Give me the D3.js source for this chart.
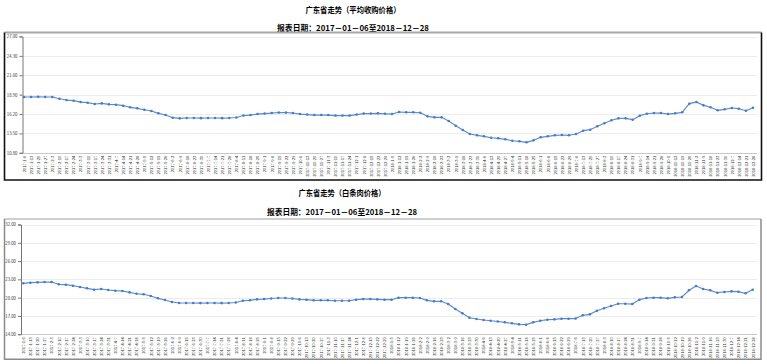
<!DOCTYPE html>
<html>
<head>
<meta charset="utf-8">
<script src="https://cdn.jsdelivr.net/npm/d3@7"></script>
<style>
  html, body { margin: 0; padding: 0; background: #fff; }
  svg { display: block; }
  text { font-family: "Noto Sans CJK SC", "Noto Sans", sans-serif; }
</style>
</head>
<body>
<svg id="chart" width="767" height="364"></svg>
<script>
// ---- data ----
const dates = ("2017-1-6,2017-1-13,2017-1-20,2017-1-27,2017-2-3,2017-2-10,2017-2-17,2017-2-24," +
  "2017-3-3,2017-3-10,2017-3-17,2017-3-24,2017-3-31,2017-4-7,2017-4-14,2017-4-21,2017-4-28," +
  "2017-5-5,2017-5-12,2017-5-19,2017-5-26,2017-6-2,2017-6-9,2017-6-16,2017-6-23,2017-6-30," +
  "2017-7-7,2017-7-14,2017-7-21,2017-7-28,2017-8-4,2017-8-11,2017-8-18,2017-8-25," +
  "2017-9-1,2017-9-8,2017-9-15,2017-9-22,2017-9-29,2017-10-6,2017-10-13,2017-10-20,2017-10-27," +
  "2017-11-3,2017-11-10,2017-11-17,2017-11-24,2017-12-1,2017-12-8,2017-12-15,2017-12-22,2017-12-29," +
  "2018-1-5,2018-1-12,2018-1-19,2018-1-26,2018-2-2,2018-2-9,2018-2-16,2018-2-23," +
  "2018-3-2,2018-3-9,2018-3-16,2018-3-23,2018-3-30,2018-4-6,2018-4-13,2018-4-20,2018-4-27," +
  "2018-5-4,2018-5-11,2018-5-18,2018-5-25,2018-6-1,2018-6-8,2018-6-15,2018-6-22,2018-6-29," +
  "2018-7-6,2018-7-13,2018-7-20,2018-7-27,2018-8-3,2018-8-10,2018-8-17,2018-8-24,2018-8-31," +
  "2018-9-7,2018-9-14,2018-9-21,2018-9-28,2018-10-5,2018-10-12,2018-10-19,2018-10-26," +
  "2018-11-2,2018-11-9,2018-11-16,2018-11-23,2018-11-30,2018-12-7,2018-12-14,2018-12-21,2018-12-28").split(",");

// 平均收购价格
const avgPrice = [18.57,18.57,18.61,18.57,18.57,18.33,18.15,18.06,17.87,17.78,
  17.60,17.69,17.55,17.50,17.36,17.14,17.00,16.80,16.62,16.30,
  16.06,15.69,15.60,15.65,15.65,15.63,15.65,15.65,15.63,15.65,
  15.72,15.99,16.06,16.20,16.27,16.34,16.41,16.41,16.34,16.20,
  16.13,16.06,16.06,16.06,15.99,15.99,15.99,16.13,16.27,16.27,
  16.30,16.24,16.20,16.48,16.44,16.44,16.38,15.88,15.74,15.74,
  15.23,14.57,13.97,13.42,13.24,13.10,12.90,12.82,12.68,12.48,
  12.40,12.26,12.54,12.96,13.10,13.24,13.28,13.24,13.42,13.88,
  14.02,14.49,14.91,15.33,15.60,15.60,15.41,15.97,16.24,16.34,
  16.34,16.20,16.30,16.44,17.64,17.87,17.41,17.14,16.72,16.86,
  17.04,16.94,16.66,17.08];

// 白条肉价格
const porkPrice = [22.35,22.45,22.51,22.56,22.56,22.19,22.12,21.96,21.74,21.53,
  21.30,21.42,21.25,21.14,21.09,20.87,20.64,20.55,20.27,19.89,
  19.61,19.28,19.12,19.12,19.12,19.10,19.12,19.12,19.10,19.12,
  19.20,19.49,19.56,19.72,19.77,19.86,19.94,19.94,19.86,19.72,
  19.66,19.56,19.56,19.56,19.49,19.49,19.49,19.66,19.77,19.77,
  19.72,19.66,19.66,19.99,19.99,19.99,19.94,19.56,19.40,19.40,
  18.95,18.13,17.43,16.70,16.49,16.33,16.21,16.08,15.95,15.79,
  15.62,15.56,15.95,16.21,16.38,16.44,16.54,16.54,16.57,17.10,
  17.26,17.85,18.25,18.63,19.00,19.00,18.95,19.66,19.94,19.99,
  19.99,19.89,20.05,20.10,21.20,21.91,21.42,21.20,20.81,20.92,
  21.04,20.97,20.71,21.30];

const ticks1 = [10.8, 13.5, 16.2, 18.9, 21.6, 24.3, 27.0];
const ticks2 = [14, 17, 20, 23, 26, 29, 32];

const title1 = "广东省走势（平均收购价格）";
const title2 = "广东省走势（白条肉价格）";
const subtitle = "报表日期：2017－01－06至2018－12－28";

// ---- drawing ----
const svg = d3.select("#chart");
const LINE = "#5a8bd2";

function drawChart(cfg) {
  const g = svg.append("g");

  // titles
  g.append("text").attr("x", cfg.cx).attr("y", cfg.titleY)
    .attr("text-anchor", "middle").attr("dominant-baseline", "central")
    .attr("font-size", 8).attr("font-weight", "bold").attr("fill", "#000")
    .attr("textLength", cfg.titleW).attr("lengthAdjust", "spacingAndGlyphs")
    .text(cfg.title);
  g.append("text").attr("x", cfg.cx).attr("y", cfg.subY)
    .attr("text-anchor", "middle").attr("dominant-baseline", "central")
    .attr("font-size", 8).attr("font-weight", "bold").attr("fill", "#000")
    .attr("textLength", cfg.subW).attr("lengthAdjust", "spacingAndGlyphs")
    .text(subtitle);

  // frame
  const b = cfg.box;
  g.append("line").attr("x1", b.x0).attr("x2", b.x1).attr("y1", b.y0).attr("y2", b.y0)
    .attr("stroke", cfg.topColor).attr("stroke-width", 2);
  g.append("path")
    .attr("d", `M${b.x0},${b.y0}V${b.y1}H${b.x1}V${b.y0}`)
    .attr("fill", "none").attr("stroke", cfg.frameColor).attr("stroke-width", cfg.frameW);

  const x = d3.scalePoint().domain(dates).range([cfg.px0, cfg.px1]);
  const y = d3.scaleLinear().domain([cfg.ticks[0], cfg.ticks[cfg.ticks.length - 1]])
    .range([cfg.bottom, cfg.top]);

  // gridlines
  g.append("g").selectAll("line").data(cfg.ticks).join("line")
    .attr("x1", cfg.axisX).attr("x2", cfg.right)
    .attr("y1", d => Math.round(y(d)) + 0.5).attr("y2", d => Math.round(y(d)) + 0.5)
    .attr("stroke", (d, i) => i === 0 ? "#c8c8c8" : "#ececec").attr("stroke-width", 1);

  // y axis
  const ya = g.append("g").attr("transform", `translate(${cfg.axisX},0)`)
    .call(d3.axisLeft(y).tickValues(cfg.ticks).tickFormat(d3.format(".2f")).tickSize(3).tickPadding(2));
  ya.select(".domain").attr("stroke", "#777");
  ya.selectAll(".tick line").attr("stroke", "#777");
  ya.selectAll(".tick text").attr("font-size", 4.3).attr("fill", "#333")
    .attr("font-family", "Liberation Sans, Arial, sans-serif");

  // x axis labels
  const xa = g.append("g").attr("transform", `translate(0,${cfg.bottom})`)
    .call(d3.axisBottom(x).tickSize(0).tickPadding(0));
  xa.select(".domain").remove();
  xa.selectAll(".tick text")
    .attr("font-size", 4.1).attr("fill", "#333")
    .attr("font-family", "Liberation Sans, Arial, sans-serif")
    .attr("text-anchor", "end")
    .attr("dy", "0.32em")
    .attr("transform", "translate(0,3) rotate(-90)")
    .attr("y", 0).attr("x", 0);

  // line + markers
  const line = d3.line().x((d, i) => x(dates[i])).y(d => y(d));
  g.append("path").datum(cfg.values).attr("d", line)
    .attr("fill", "none").attr("stroke", LINE).attr("stroke-width", 1.2)
    .attr("stroke-linejoin", "round");
  g.append("g").selectAll("circle").data(cfg.values).join("circle")
    .attr("cx", (d, i) => x(dates[i])).attr("cy", d => y(d))
    .attr("r", 1.3).attr("fill", "#4a7bc4");
}

drawChart({
  title: title1, cx: 353, titleY: 9, subY: 27, titleW: 95, subW: 152,
  box: {x0: 4.5, x1: 761.5, y0: 32.5, y1: 180},
  topColor: "#a8a8a8", frameColor: "#111", frameW: 1.6,
  axisX: 22.5, right: 757, px0: 24, px1: 753,
  top: 36.5, bottom: 152.8,
  ticks: ticks1, values: avgPrice
});

drawChart({
  title: title2, cx: 342, titleY: 192.5, subY: 211, titleW: 87, subW: 150,
  box: {x0: 4.5, x1: 761, y0: 219, y1: 359.3},
  topColor: "#cfcfcf", frameColor: "#8a8a8a", frameW: 1.5,
  axisX: 21, right: 757, px0: 23.3, px1: 752.7,
  top: 224.5, bottom: 334.2,
  ticks: ticks2, values: porkPrice
});
</script>
</body>
</html>
